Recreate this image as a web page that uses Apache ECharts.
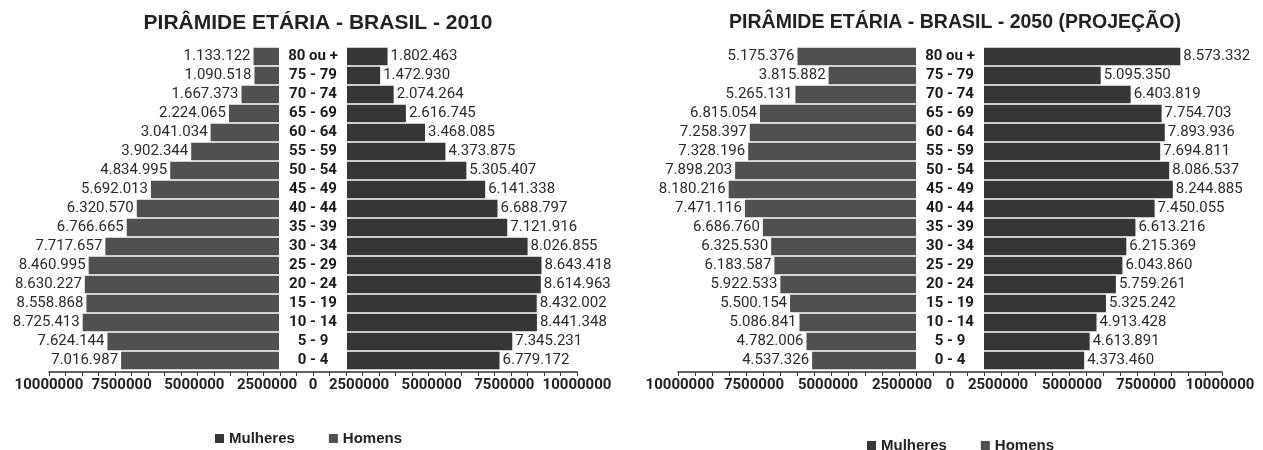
<!DOCTYPE html>
<html><head><meta charset="utf-8">
<script src="https://cdn.jsdelivr.net/npm/echarts@6/dist/echarts.min.js"></script>
<style>html,body{margin:0;padding:0;background:#fff}#c{width:1263px;height:450px}</style>
</head><body><div id="c"></div>
<script>
// Age groups, bottom to top
const ages = ['0 - 4','5 - 9','10 - 14','15 - 19','20 - 24','25 - 29','30 - 34','35 - 39','40 - 44','45 - 49','50 - 54','55 - 59','60 - 64','65 - 69','70 - 74','75 - 79','80 ou +'];

const homens2010 = [7016987,7624144,8725413,8558868,8630227,8460995,7717657,6766665,6320570,5692013,4834995,3902344,3041034,2224065,1667373,1090518,1133122];
const mulheres2010 = [6779172,7345231,8441348,8432002,8614963,8643418,8026855,7121916,6688797,6141338,5305407,4373875,3468085,2616745,2074264,1472930,1802463];

const homens2050 = [4537326,4782006,5086841,5500154,5922533,6183587,6325530,6686760,7471116,8180216,7898203,7328196,7258397,6815054,5265131,3815882,5175376];
const mulheres2050 = [4373460,4613891,4913428,5325242,5759261,6043860,6215369,6613216,7450055,8244885,8086537,7694811,7893936,7754703,6403819,5095350,8573332];

const titles = ['PIRÂMIDE ETÁRIA - BRASIL - 2010', 'PIRÂMIDE ETÁRIA - BRASIL - 2050 (PROJEÇÃO)'];
const legendNames = ['Mulheres', 'Homens'];
const axisMax = 10000000, labelStep = 2500000, tickStep = 625000;

const datasets = [
  {homens: homens2010, mulheres: mulheres2010},
  {homens: homens2050, mulheres: mulheres2050}
];
const layouts = [
  {cx:313, half:34, span:225, axisHalf:264, lblIn:46, lblOut:264, legendLeft:210, legendTop:426, titleSize:21},
  {cx:950, half:34, span:229, axisHalf:272, lblIn:48, lblOut:270, legendLeft:862, legendTop:433, titleSize:19.5}
];

const fmt = v => String(v).replace(/\B(?=(\d{3})+(?!\d))/g, '.');
const COL_H = '#505050', COL_M = '#363636', TXT = '#222';
const barTop = 47, barH = 323, axisBottom = 372;

const option = {animation:false, title:[], legend:[], grid:[], xAxis:[], yAxis:[], series:[]};

layouts.forEach((L, i) => {
  const b = i * 5;
  option.title.push({text: titles[i], left: L.cx, top: 8, textAlign:'center',
    textStyle:{fontFamily:'Liberation Sans', fontWeight:'bold', fontSize:L.titleSize, color:TXT}});
  option.legend.push({data: legendNames, left: L.legendLeft, top: L.legendTop, icon:'rect',
    itemWidth:9, itemHeight:9, itemGap:34, selectedMode:false,
    textStyle:{fontFamily:'Liberation Sans', fontWeight:'bold', fontSize:15, color:TXT}});
  const gridTopA = axisBottom - 72;
  option.grid.push(
    {left: L.cx - L.half - L.span, width: L.span, top: barTop, height: barH},
    {left: L.cx + L.half, width: L.span, top: barTop, height: barH},
    {left: L.cx - L.axisHalf, width: 2 * L.axisHalf, top: gridTopA, height: 72},
    {left: L.cx - L.lblOut, width: L.lblOut - L.lblIn, top: gridTopA, height: 72},
    {left: L.cx + L.lblIn, width: L.lblOut - L.lblIn, top: gridTopA, height: 72}
  );
  const labelStyle = {fontFamily:'Roboto', fontWeight:'bold', fontSize:15, color:TXT, margin:6,
    showMinLabel:true, showMaxLabel:true, formatter: v => String(v)};
  option.xAxis.push(
    {gridIndex:b, type:'value', min:0, max:axisMax, inverse:true, show:false},
    {gridIndex:b+1, type:'value', min:0, max:axisMax, show:false},
    {gridIndex:b+2, type:'value', min:-axisMax, max:axisMax, interval:tickStep,
      axisLine:{show:true, lineStyle:{color:'#333', width:1.5}},
      axisTick:{show:true, length:4, lineStyle:{color:'#333'}},
      splitLine:{show:false},
      axisLabel:Object.assign({}, labelStyle, {formatter: v => v === 0 ? '0' : ''})},
    {gridIndex:b+3, type:'value', min:labelStep, max:axisMax, interval:labelStep, inverse:true,
      axisLine:{show:false}, axisTick:{show:false}, splitLine:{show:false}, axisLabel:labelStyle},
    {gridIndex:b+4, type:'value', min:labelStep, max:axisMax, interval:labelStep,
      axisLine:{show:false}, axisTick:{show:false}, splitLine:{show:false}, axisLabel:labelStyle}
  );
  option.yAxis.push(
    {gridIndex:b, type:'category', data:ages, position:'right',
      axisLine:{show:false}, axisTick:{show:false},
      axisLabel:{interval:0, align:'center', margin:L.half, fontFamily:'Roboto', fontWeight:'bold', fontSize:15, color:'#1a1a1a'}},
    {gridIndex:b+1, type:'category', data:ages, show:false},
    {gridIndex:b+2, type:'value', show:false, min:0, max:1},
    {gridIndex:b+3, type:'value', show:false, min:0, max:1},
    {gridIndex:b+4, type:'value', show:false, min:0, max:1}
  );
  const valLabel = pos => ({show:true, position:pos, distance:3, fontFamily:'Roboto', fontSize:15, color:'#2a2a2a',
    formatter: p => fmt(p.value)});
  option.series.push(
    {name:'Homens', type:'bar', xAxisIndex:b, yAxisIndex:b, data:datasets[i].homens,
      barCategoryGap:'8%', itemStyle:{color:COL_H}, label:valLabel('left')},
    {name:'Mulheres', type:'bar', xAxisIndex:b+1, yAxisIndex:b+1, data:datasets[i].mulheres,
      barCategoryGap:'8%', itemStyle:{color:COL_M}, label:valLabel('right')}
  );
});

const chart = echarts.init(document.getElementById('c'), null, {renderer:'canvas'});
chart.setOption(option);
</script>
</body></html>
